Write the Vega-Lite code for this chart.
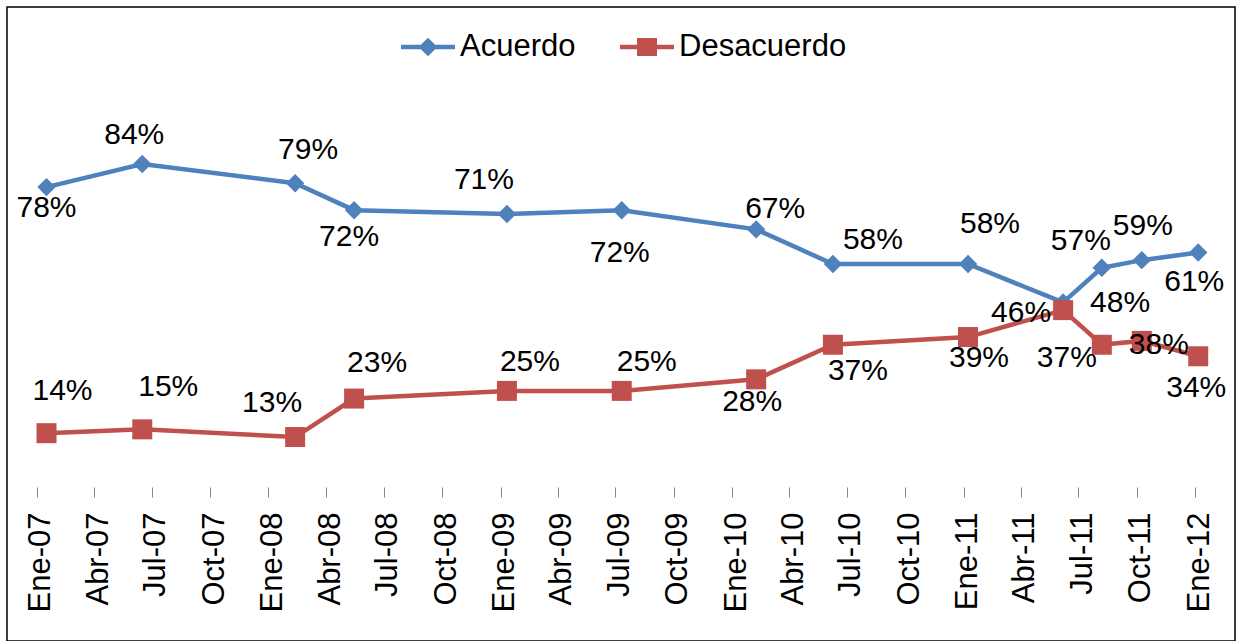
{
  "$schema": "https://vega.github.io/schema/vega-lite/v6.json",
  "width": 1228,
  "height": 634,
  "autosize": {"type": "none"},
  "padding": {"left": 7, "top": 7, "right": 5, "bottom": 0},
  "background": "white",
  "config": {
    "view": {"stroke": "#000000", "strokeWidth": 1.5},
    "text": {"font": "Liberation Sans", "fontSize": 30, "color": "#000000", "align": "center", "baseline": "middle"},
    "legend": {
      "orient": "none", "legendX": 394, "legendY": 13, "direction": "horizontal", "title": null,
      "labelFont": "Liberation Sans", "labelFontSize": 31, "labelColor": "#000000", "labelLimit": 600,
      "symbolSize": 2916, "symbolOpacity": 1, "symbolStrokeWidth": 0, "labelOffset": 5, "columnPadding": 44, "padding": 0
    }
  },
  "data": {"values": [
    {"s": "Acuerdo", "d": "2007-01-16", "v": 0.78},
    {"s": "Acuerdo", "d": "2007-06-16", "v": 0.84},
    {"s": "Acuerdo", "d": "2008-02-12", "v": 0.79},
    {"s": "Acuerdo", "d": "2008-05-15", "v": 0.72},
    {"s": "Acuerdo", "d": "2009-01-11", "v": 0.71},
    {"s": "Acuerdo", "d": "2009-07-11", "v": 0.72},
    {"s": "Acuerdo", "d": "2010-02-08", "v": 0.67},
    {"s": "Acuerdo", "d": "2010-06-09", "v": 0.58},
    {"s": "Acuerdo", "d": "2011-01-08", "v": 0.58},
    {"s": "Acuerdo", "d": "2011-06-07", "v": 0.48},
    {"s": "Acuerdo", "d": "2011-08-07", "v": 0.57},
    {"s": "Acuerdo", "d": "2011-10-09", "v": 0.59},
    {"s": "Acuerdo", "d": "2012-01-06", "v": 0.61},
    {"s": "Desacuerdo", "d": "2007-01-16", "v": 0.14},
    {"s": "Desacuerdo", "d": "2007-06-16", "v": 0.15},
    {"s": "Desacuerdo", "d": "2008-02-12", "v": 0.13},
    {"s": "Desacuerdo", "d": "2008-05-15", "v": 0.23},
    {"s": "Desacuerdo", "d": "2009-01-11", "v": 0.25},
    {"s": "Desacuerdo", "d": "2009-07-11", "v": 0.25},
    {"s": "Desacuerdo", "d": "2010-02-08", "v": 0.28},
    {"s": "Desacuerdo", "d": "2010-06-09", "v": 0.37},
    {"s": "Desacuerdo", "d": "2011-01-08", "v": 0.39},
    {"s": "Desacuerdo", "d": "2011-06-07", "v": 0.46},
    {"s": "Desacuerdo", "d": "2011-08-07", "v": 0.37},
    {"s": "Desacuerdo", "d": "2011-10-09", "v": 0.38},
    {"s": "Desacuerdo", "d": "2012-01-06", "v": 0.34}
  ]},
  "encoding": {
    "x": {
      "field": "d", "type": "temporal",
      "scale": {"type": "utc", "nice": false, "domain": [{"year": 2006, "month": 11, "date": 14, "hours": 17, "utc": true}, {"year": 2012, "month": 3, "date": 4, "utc": true}]},
      "axis": {
        "orient": "bottom", "offset": -154, "domain": false, "grid": false, "title": null,
        "ticks": true, "tickSize": 10, "tickColor": "#868686", "tickWidth": 1,
        "tickCount": {"interval": "month", "step": 3},
        "labelAngle": -90, "labelFont": "Liberation Sans", "labelFontSize": 31, "labelColor": "#000000",
        "labelPadding": 15, "labelOffset": 4, "labelOverlap": false, "labelBound": false, "labelFlush": false,
        "labelExpr": "['Ene','Feb','Mar','Abr','May','Jun','Jul','Ago','Sep','Oct','Nov','Dic'][utcmonth(datum.value)] + '-' + utcFormat(datum.value, '%y')"
      }
    },
    "y": {"field": "v", "type": "quantitative", "scale": {"domain": [-0.4005, 1.2484], "nice": false, "zero": false}, "axis": null}
  },
  "layer": [
    {
      "data": {"values": [{}]},
      "mark": {"type": "rule", "color": "#868686", "strokeWidth": 1},
      "encoding": {
        "x": {
          "datum": {"year": 2007, "month": 1, "date": 1, "utc": true}, "type": "temporal",
          "scale": {"type": "utc", "nice": false, "domain": [{"year": 2006, "month": 11, "date": 14, "hours": 17, "utc": true}, {"year": 2012, "month": 3, "date": 4, "utc": true}]},
          "axis": {
            "orient": "bottom", "offset": -154, "domain": false, "grid": false, "title": null,
            "ticks": true, "tickSize": 10, "tickColor": "#868686", "tickWidth": 1,
            "tickCount": {"interval": "month", "step": 3},
            "labelAngle": -90, "labelFont": "Liberation Sans", "labelFontSize": 31, "labelColor": "#000000",
            "labelPadding": 15, "labelOffset": 4, "labelOverlap": false, "labelBound": false, "labelFlush": false,
            "labelExpr": "['Ene','Feb','Mar','Abr','May','Jun','Jul','Ago','Sep','Oct','Nov','Dic'][utcmonth(datum.value)] + '-' + utcFormat(datum.value, '%y')"
          }
        },
        "x2": {"datum": {"year": 2012, "month": 1, "date": 23, "utc": true}},
        "y": {"datum": 0, "type": "quantitative", "scale": {"domain": [-0.4005, 1.2484], "nice": false, "zero": false}, "axis": null}
      }
    },
    {
      "transform": [{"filter": "datum.s == 'Acuerdo'"}],
      "mark": {"type": "line", "color": "#4F81BD", "strokeWidth": 4.5}
    },
    {
      "transform": [{"filter": "datum.s == 'Acuerdo'"}],
      "mark": {"type": "point", "shape": "diamond", "filled": true, "opacity": 1, "size": 340, "color": "#4F81BD"}
    },
    {
      "transform": [{"filter": "datum.s == 'Desacuerdo'"}],
      "mark": {"type": "line", "color": "#C0504D", "strokeWidth": 4.5}
    },
    {
      "transform": [{"filter": "datum.s == 'Desacuerdo'"}],
      "mark": {"type": "point", "shape": "square", "filled": true, "opacity": 1, "size": 400, "color": "#C0504D"}
    },
    {
      "mark": {"type": "point", "filled": true, "opacity": 0, "size": 2916},
      "encoding": {
        "color": {"field": "s", "type": "nominal", "scale": {"domain": ["Acuerdo", "Desacuerdo"], "range": ["#4F81BD", "#C0504D"]}},
        "shape": {"field": "s", "type": "nominal", "scale": {"domain": ["Acuerdo", "Desacuerdo"], "range": [
          "M-1,-0.085L1,-0.085L1,0.085L-1,0.085Z M0,-0.34L0.35,0L0,0.34L-0.35,0Z",
          "M-1,-0.085L1,-0.085L1,0.085L-1,0.085Z M-0.37,-0.33L0.37,-0.33L0.37,0.33L-0.37,0.33Z"
        ]}}
      }
    },
    {
      "encoding": {"text": {"field": "v", "type": "quantitative", "format": ".0%"}},
      "layer": [
        {"transform": [{"filter": "datum.s=='Acuerdo'&&utcyear(datum.d)==2007&&utcmonth(datum.d)==0"}], "mark": {"type": "text", "dx": 0, "dy": 21}},
        {"transform": [{"filter": "datum.s=='Acuerdo'&&utcyear(datum.d)==2007&&utcmonth(datum.d)==5"}], "mark": {"type": "text", "dx": -8, "dy": -29}},
        {"transform": [{"filter": "datum.s=='Acuerdo'&&utcyear(datum.d)==2008&&utcmonth(datum.d)==1"}], "mark": {"type": "text", "dx": 13, "dy": -33}},
        {"transform": [{"filter": "datum.s=='Acuerdo'&&utcyear(datum.d)==2008&&utcmonth(datum.d)==4"}], "mark": {"type": "text", "dx": -5, "dy": 27}},
        {"transform": [{"filter": "datum.s=='Acuerdo'&&utcyear(datum.d)==2009&&utcmonth(datum.d)==0"}], "mark": {"type": "text", "dx": -23, "dy": -34}},
        {"transform": [{"filter": "datum.s=='Acuerdo'&&utcyear(datum.d)==2009&&utcmonth(datum.d)==6"}], "mark": {"type": "text", "dx": -2, "dy": 43}},
        {"transform": [{"filter": "datum.s=='Acuerdo'&&utcyear(datum.d)==2010&&utcmonth(datum.d)==1"}], "mark": {"type": "text", "dx": 19, "dy": -20}},
        {"transform": [{"filter": "datum.s=='Acuerdo'&&utcyear(datum.d)==2010&&utcmonth(datum.d)==5"}], "mark": {"type": "text", "dx": 40, "dy": -24}},
        {"transform": [{"filter": "datum.s=='Acuerdo'&&utcyear(datum.d)==2011&&utcmonth(datum.d)==0"}], "mark": {"type": "text", "dx": 22, "dy": -40}},
        {"transform": [{"filter": "datum.s=='Acuerdo'&&utcyear(datum.d)==2011&&utcmonth(datum.d)==5"}], "mark": {"type": "text", "dx": 57, "dy": 1}},
        {"transform": [{"filter": "datum.s=='Acuerdo'&&utcyear(datum.d)==2011&&utcmonth(datum.d)==7"}], "mark": {"type": "text", "dx": -21, "dy": -27}},
        {"transform": [{"filter": "datum.s=='Acuerdo'&&utcyear(datum.d)==2011&&utcmonth(datum.d)==9"}], "mark": {"type": "text", "dx": 1, "dy": -34}},
        {"transform": [{"filter": "datum.s=='Acuerdo'&&utcyear(datum.d)==2012&&utcmonth(datum.d)==0"}], "mark": {"type": "text", "dx": -4, "dy": 30}},
        {"transform": [{"filter": "datum.s=='Desacuerdo'&&utcyear(datum.d)==2007&&utcmonth(datum.d)==0"}], "mark": {"type": "text", "dx": 16, "dy": -42}},
        {"transform": [{"filter": "datum.s=='Desacuerdo'&&utcyear(datum.d)==2007&&utcmonth(datum.d)==5"}], "mark": {"type": "text", "dx": 26, "dy": -42}},
        {"transform": [{"filter": "datum.s=='Desacuerdo'&&utcyear(datum.d)==2008&&utcmonth(datum.d)==1"}], "mark": {"type": "text", "dx": -23, "dy": -34}},
        {"transform": [{"filter": "datum.s=='Desacuerdo'&&utcyear(datum.d)==2008&&utcmonth(datum.d)==4"}], "mark": {"type": "text", "dx": 23, "dy": -36}},
        {"transform": [{"filter": "datum.s=='Desacuerdo'&&utcyear(datum.d)==2009&&utcmonth(datum.d)==0"}], "mark": {"type": "text", "dx": 23, "dy": -29}},
        {"transform": [{"filter": "datum.s=='Desacuerdo'&&utcyear(datum.d)==2009&&utcmonth(datum.d)==6"}], "mark": {"type": "text", "dx": 25, "dy": -29}},
        {"transform": [{"filter": "datum.s=='Desacuerdo'&&utcyear(datum.d)==2010&&utcmonth(datum.d)==1"}], "mark": {"type": "text", "dx": -4, "dy": 23}},
        {"transform": [{"filter": "datum.s=='Desacuerdo'&&utcyear(datum.d)==2010&&utcmonth(datum.d)==5"}], "mark": {"type": "text", "dx": 25, "dy": 26}},
        {"transform": [{"filter": "datum.s=='Desacuerdo'&&utcyear(datum.d)==2011&&utcmonth(datum.d)==0"}], "mark": {"type": "text", "dx": 11, "dy": 21}},
        {"transform": [{"filter": "datum.s=='Desacuerdo'&&utcyear(datum.d)==2011&&utcmonth(datum.d)==5"}], "mark": {"type": "text", "dx": -42, "dy": 3}},
        {"transform": [{"filter": "datum.s=='Desacuerdo'&&utcyear(datum.d)==2011&&utcmonth(datum.d)==7"}], "mark": {"type": "text", "dx": -35, "dy": 13}},
        {"transform": [{"filter": "datum.s=='Desacuerdo'&&utcyear(datum.d)==2011&&utcmonth(datum.d)==9"}], "mark": {"type": "text", "dx": 17, "dy": 4}},
        {"transform": [{"filter": "datum.s=='Desacuerdo'&&utcyear(datum.d)==2012&&utcmonth(datum.d)==0"}], "mark": {"type": "text", "dx": -2, "dy": 32}}
      ]
    }
  ]
}
